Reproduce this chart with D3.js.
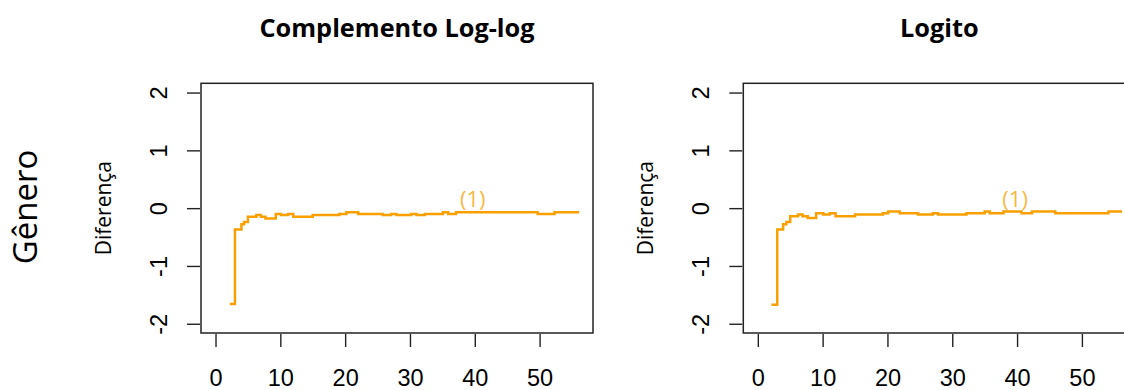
<!DOCTYPE html>
<html>
<head>
<meta charset="utf-8">
<script src="https://cdn.jsdelivr.net/npm/d3@7"></script>
<style>
  html, body { margin: 0; padding: 0; background: #fff; }
  svg { display: block; font-family: "Open Sans", "Noto Sans", sans-serif; }
</style>
</head>
<body>
<svg id="chart" width="1124" height="390"></svg>
<script>
// Step curves: difference over time for the "Gênero" covariate
const timesCLL = [2.2, 3, 4, 4.4, 5, 6.3, 7, 7.7, 9.3, 10.1, 11.2, 12, 15, 19.1, 20.2, 22, 25.8, 27.1, 27.9, 30.2, 31, 32.3, 35.1, 35.9, 37.1, 49.7, 52.3, 56.1];
const diffCLL  = [-1.66, -0.37, -0.28, -0.24, -0.15, -0.12, -0.15, -0.18, -0.10, -0.12, -0.10, -0.15, -0.12, -0.10, -0.07, -0.10, -0.12, -0.10, -0.12, -0.10, -0.12, -0.10, -0.07, -0.10, -0.07, -0.10, -0.07, -0.07];

const timesLogit = [2.1, 3, 3.9, 4.4, 5, 6.2, 6.9, 7.7, 9, 10.1, 11.1, 12, 15, 19.3, 20.1, 21.9, 24.7, 27, 27.8, 32.2, 35, 35.8, 37.9, 40.7, 42.3, 45.9, 54.1, 56.2];
const diffLogit  = [-1.67, -0.37, -0.28, -0.24, -0.14, -0.11, -0.14, -0.17, -0.09, -0.11, -0.09, -0.14, -0.11, -0.09, -0.06, -0.09, -0.11, -0.09, -0.11, -0.09, -0.06, -0.09, -0.06, -0.09, -0.06, -0.09, -0.06, -0.06];

const panelTitles = ["Complemento Log-log", "Logito"];
const rowLabel = "Gênero";
const yLabel = "Diferença";
const xTicks = [0, 10, 20, 30, 40, 50];
const yTicks = [-2, -1, 0, 1, 2];
const xLimits = [0, 56];
const yLimits = [-2, 2];
const markLabel = "(1)";
const markPos = [39.7, 0.18];

const panels = [
  { title: panelTitles[0], times: timesCLL, diff: diffCLL, left: 201 },
  { title: panelTitles[1], times: timesLogit, diff: diffLogit, left: 743.3 }
];

const svg = d3.select("#chart");
const boxW = 392, boxTop = 83.3, boxBottom = 333;
const lineColor = "#F7A000";
const axisColor = "#222";
const tickFmt = d => String(d);   // plain hyphen for negatives

// 4% padding around the data limits
const pad = ([a, b]) => [a - 0.04 * (b - a), b + 0.04 * (b - a)];

svg.append("text")
  .attr("transform", "translate(37,207) rotate(-90)")
  .attr("text-anchor", "middle")
  .attr("font-size", 33)
  .attr("fill", "#000")
  .text(rowLabel);

panels.forEach(p => {
  const x = d3.scaleLinear().domain(pad(xLimits)).range([p.left, p.left + boxW]);
  const y = d3.scaleLinear().domain(pad(yLimits)).range([boxBottom, boxTop]);
  const g = svg.append("g");

  // title
  g.append("text")
    .attr("x", p.left + boxW / 2)
    .attr("y", 37)
    .attr("text-anchor", "middle")
    .attr("font-size", 25.3)
    .attr("font-weight", "bold")
    .attr("fill", "#000")
    .text(p.title);

  // x axis ticks & labels
  const xa = g.append("g").attr("transform", `translate(0,${boxBottom + 1})`)
    .call(d3.axisBottom(x).tickValues(xTicks).tickSize(13).tickPadding(22).tickFormat(tickFmt));
  xa.select(".domain").remove();
  xa.selectAll("line").attr("stroke", axisColor).attr("stroke-width", 1.4);
  xa.selectAll("text").attr("font-size", 23.5).attr("font-family", null).attr("fill", "#000");

  // y axis ticks & rotated labels
  const ya = g.append("g").attr("transform", `translate(${p.left - 1},0)`)
    .call(d3.axisLeft(y).tickValues(yTicks).tickSize(13).tickFormat(tickFmt));
  ya.select(".domain").remove();
  ya.selectAll("line").attr("stroke", axisColor).attr("stroke-width", 1.4);
  ya.selectAll("text")
    .attr("x", null).attr("dy", null)
    .attr("transform", "translate(-41,0) rotate(-90)")
    .attr("text-anchor", "middle")
    .attr("dominant-baseline", "central")
    .attr("font-size", 23.5).attr("font-family", null).attr("fill", "#000");

  // y axis title
  g.append("text")
    .attr("transform", `translate(${p.left - 90},${(boxTop + boxBottom) / 2}) rotate(-90)`)
    .attr("text-anchor", "middle")
    .attr("font-size", 21)
    .attr("fill", "#000")
    .text(yLabel);

  // step line
  const line = d3.line()
    .x((d, i) => x(p.times[i]))
    .y(d => y(d))
    .curve(d3.curveStepAfter);
  g.append("path")
    .datum(p.diff)
    .attr("d", line)
    .attr("fill", "none")
    .attr("stroke", lineColor)
    .attr("stroke-width", 2.5);

  // plot frame
  g.append("rect")
    .attr("x", p.left).attr("y", boxTop)
    .attr("width", boxW).attr("height", boxBottom - boxTop)
    .attr("fill", "none")
    .attr("stroke", axisColor)
    .attr("stroke-width", 1.5);

  // annotation
  g.append("text")
    .attr("x", x(markPos[0]))
    .attr("y", y(markPos[1]))
    .attr("text-anchor", "middle")
    .attr("dominant-baseline", "central")
    .attr("font-size", 22)
    .attr("fill", lineColor)
    .attr("fill-opacity", 0.75)
    .text(markLabel);
});
</script>
</body>
</html>
